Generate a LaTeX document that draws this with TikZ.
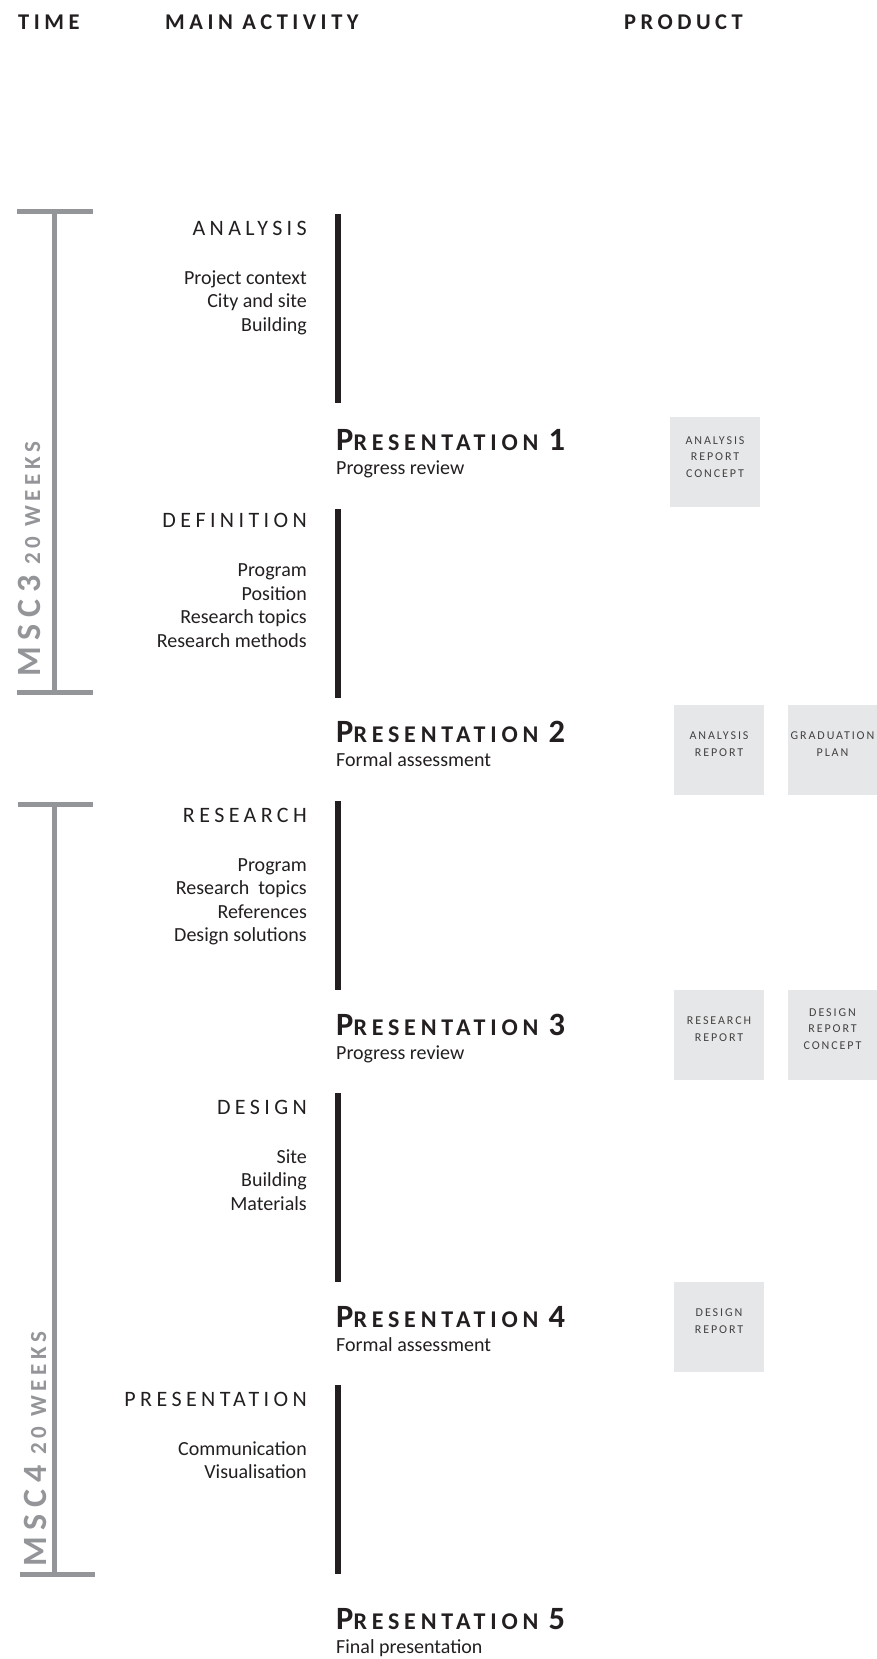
\documentclass[tikz,border=0pt]{standalone}
\usepackage{fontspec}
\setmainfont{Carlito}
\newfontfamily\spaced[LetterSpace=20]{Carlito}
\newfontfamily\boxfont[LetterSpace=16]{Carlito}
\usetikzlibrary{
  positioning % for the notes under the milestones
}
\definecolor{ink}{HTML}{231F20}
\definecolor{timegray}{HTML}{939598}
\definecolor{boxgray}{HTML}{E6E7E8}
\tikzset{
  header/.style={ % column titles on top
    anchor=base west,inner sep=0pt,text=ink,
    font=\spaced\bfseries\fontsize{22.5}{22}\selectfont,
  },
  phase/.style={ % name of each activity, right aligned
    anchor=base east,inner sep=0pt,text=ink,
    font=\spaced\fontsize{22}{22}\selectfont,
  },
  item/.style={ % one line of the activity contents
    anchor=base east,inner sep=0pt,text=ink,
    font=\fontsize{20}{24}\selectfont,
  },
  milestone/.style={ % presentation titles
    anchor=base west,inner sep=0pt,text=ink,
    font=\spaced\bfseries\fontsize{24}{24}\selectfont,
  },
  note/.style={ % line under a presentation title
    anchor=base west,inner sep=0pt,text=ink,
    font=\fontsize{20}{24}\selectfont,
  },
  product/.style={ % grey square of a deliverable
    rectangle,fill=boxgray,minimum size=90pt,inner sep=0pt,
  },
  productlabel/.style={ % text inside a deliverable
    inner sep=0pt,align=center,text=ink!85,
    font=\boxfont\fontsize{12}{16.3}\selectfont,
  },
  track/.style={line width=6pt,draw=ink}, % black activity bar
  timeline/.style={line width=5pt,draw=timegray}, % grey semester bracket
  term/.style={ % semester name, turned upwards
    rotate=90,anchor=base west,inner sep=0pt,text=timegray,
    font=\spaced\bfseries\fontsize{23}{23}\selectfont,
  },
}
\begin{document}
\begin{tikzpicture}[x=1pt,y=-1pt]
  \useasboundingbox (0,0) rectangle (877,1659);
  % column titles
  \node[header] (time) at (18,29.3) {TIME};
  \node[header] (main) at (165,29.3) {MAIN ACTIVITY};
  \node[header] (prod) at (624,29.3) {PRODUCT};

  % semesters
  \draw[timeline] (17,211.6) -- (93,211.6) (54.5,211.6) -- (54.5,692.5) (17,692.5) -- (93,692.5);
  \draw[timeline] (18,804) -- (93,804) (54.5,804) -- (54.5,1574) (20,1574) -- (95,1574);
  \node[term] (msc3) at (40,677) {{\fontsize{34}{34}\selectfont MSC3}\hspace{11pt}20 WEEKS};
  \node[term] (msc4) at (46,1567) {{\fontsize{34}{34}\selectfont MSC4}\hspace{11pt}20 WEEKS};

  % activity bars
  \draw[track] (338,214) -- (338,403);
  \draw[track] (338,509) -- (338,698);
  \draw[track] (338,801) -- (338,990);
  \draw[track] (338,1093) -- (338,1282);
  \draw[track] (338,1385) -- (338,1574);

  % analysis
  \node[phase] (ana) at (307,235) {ANALYSIS};
  \node[item] (ana1) at (307,284.3) {Project context};
  \node[item] (ana2) at (307,307.9) {City and site};
  \node[item] (ana3) at (307,331.5) {Building};
  % definition
  \node[phase] (def) at (307,527) {DEFINITION};
  \node[item] (def1) at (307,576.5) {Program};
  \node[item] (def2) at (307,600.1) {Position};
  \node[item] (def3) at (307,623.7) {Research topics};
  \node[item] (def4) at (307,647.3) {Research methods};
  % research
  \node[phase] (res) at (307,822) {RESEARCH};
  \node[item] (res1) at (307,871) {Program};
  \node[item] (res2) at (307,894.6) {Research~ topics};
  \node[item] (res3) at (307,918.2) {References};
  \node[item] (res4) at (307,941.8) {Design solutions};
  % design
  \node[phase] (des) at (307,1114) {DESIGN};
  \node[item] (des1) at (307,1163) {Site};
  \node[item] (des2) at (307,1186.6) {Building};
  \node[item] (des3) at (307,1210.2) {Materials};
  % presentation
  \node[phase] (pre) at (307,1406) {PRESENTATION};
  \node[item] (pre1) at (307,1455) {Communication};
  \node[item] (pre2) at (307,1478.6) {Visualisation};

  % milestones
  \node[milestone] (p1) at (336,450) {{\fontsize{32.5}{32}\selectfont P}RESENTATION {\fontsize{32.5}{32}\selectfont 1}};
  \node[note, below=10pt of p1.south west, anchor=north west] (p1n) {Progress review};
  \node[milestone] (p2) at (336,742) {{\fontsize{32.5}{32}\selectfont P}RESENTATION {\fontsize{32.5}{32}\selectfont 2}};
  \node[note, below=10pt of p2.south west, anchor=north west] (p2n) {Formal assessment};
  \node[milestone] (p3) at (336,1035) {{\fontsize{32.5}{32}\selectfont P}RESENTATION {\fontsize{32.5}{32}\selectfont 3}};
  \node[note, below=10pt of p3.south west, anchor=north west] (p3n) {Progress review};
  \node[milestone] (p4) at (336,1327) {{\fontsize{32.5}{32}\selectfont P}RESENTATION {\fontsize{32.5}{32}\selectfont 4}};
  \node[note, below=10pt of p4.south west, anchor=north west] (p4n) {Formal assessment};
  \node[milestone] (p5) at (336,1629) {{\fontsize{32.5}{32}\selectfont P}RESENTATION {\fontsize{32.5}{32}\selectfont 5}};
  \node[note, below=10pt of p5.south west, anchor=north west] (p5n) {Final presentation};

  % products
  \node[product] (b1) at (715,462) {};
  \node[productlabel] (b1t) at ([yshift=5pt]b1.center) {ANALYSIS\\REPORT\\CONCEPT};
  \node[product] (b2) at (719,750) {};
  \node[productlabel] (b2t) at ([yshift=6pt]b2.center) {ANALYSIS\\REPORT};
  \node[product] (b3) at (832.5,750) {};
  \node[productlabel] (b3t) at ([yshift=6pt]b3.center) {GRADUATION\\PLAN};
  \node[product] (b4) at (719,1035) {};
  \node[productlabel] (b4t) at ([yshift=6pt]b4.center) {RESEARCH\\REPORT};
  \node[product] (b5) at (832.5,1035) {};
  \node[productlabel] (b5t) at ([yshift=6pt]b5.center) {DESIGN\\REPORT\\CONCEPT};
  \node[product] (b6) at (719,1327) {};
  \node[productlabel] (b6t) at ([yshift=6pt]b6.center) {DESIGN\\REPORT};
\end{tikzpicture}
\end{document}
